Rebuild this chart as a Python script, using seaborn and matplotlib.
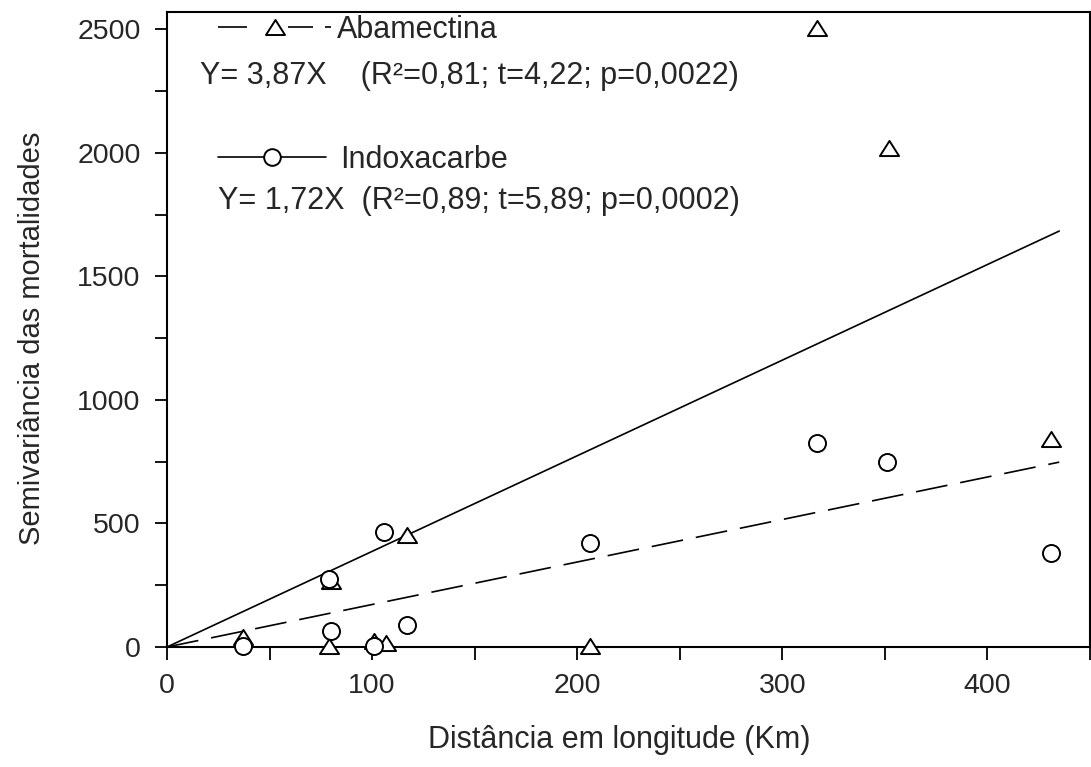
import numpy as np
import pandas as pd
import matplotlib
matplotlib.use("Agg")
import matplotlib.pyplot as plt
import seaborn as sns
from matplotlib.lines import Line2D
from matplotlib.path import Path
from matplotlib.ticker import MultipleLocator
from matplotlib.legend_handler import HandlerLine2D

# ---- data ----
aba_x = [37, 79, 80, 101, 107, 117, 206, 317, 352, 431]
aba_y = [40, 5, 266, 25, 17, 452, 5, 2505, 2020, 840]
ind_x = [37, 79, 80, 101, 106, 117, 206, 317, 351, 431]
ind_y = [5, 275, 66, 4, 466, 89, 421, 827, 748, 381]
fit_x = [0, 435]
slope_solid = 3.87
slope_dashed = 1.72

label_aba = "Abamectina"
label_ind = "Indoxacarbe"
eq_aba = "Y= 3,87X    (R²=0,81; t=4,22; p=0,0022)"
eq_ind = "Y= 1,72X  (R²=0,89; t=5,89; p=0,0002)"
xlabel = "Distância em longitude (Km)"
ylabel = "Semivariância das mortalidades"

sns.set_style("ticks")
plt.rcParams["font.family"] = ["Liberation Sans", "DejaVu Sans"]
plt.rcParams["axes.linewidth"] = 1.5

W, H = 1091, 767
fig = plt.figure(figsize=(W / 100, H / 100), dpi=100)
L, R, T, B = 167, 1090, 12, 647
ax = fig.add_axes([L / W, (H - B) / H, (R - L) / W, (B - T) / H])

tri = Path([(-1, -0.79), (1, -0.79), (0, 0.79), (-1, -0.79)],
           [Path.MOVETO, Path.LINETO, Path.LINETO, Path.CLOSEPOLY])

lw = 1.2
# regression lines
sns.lineplot(x=fit_x, y=[slope_solid * v for v in fit_x], ax=ax, color="black",
             lw=lw, zorder=2, linestyle="-")
sns.lineplot(x=fit_x, y=[slope_dashed * v for v in fit_x], ax=ax, color="black",
             lw=lw, zorder=2, linestyle=(0, (19.2, 7.8)))

# points
sns.scatterplot(x=aba_x, y=aba_y, ax=ax, marker=tri, s=190, facecolor="white",
                edgecolor="black", linewidth=1.4, zorder=3, clip_on=False)
sns.scatterplot(x=ind_x, y=ind_y, ax=ax, marker="o", s=150, facecolor="white",
                edgecolor="black", linewidth=1.4, zorder=4, clip_on=False)

ax.set_xlim(0, 450)
ax.set_ylim(0, 2570)
ax.xaxis.set_major_locator(MultipleLocator(100))
ax.xaxis.set_minor_locator(MultipleLocator(50))
ax.yaxis.set_major_locator(MultipleLocator(500))
ax.yaxis.set_minor_locator(MultipleLocator(250))
ax.tick_params(which="both", direction="out", length=9, width=1.3,
               top=False, right=False, labelsize=20.5, pad=10, color="black")
for s in ax.spines.values():
    s.set_visible(True)
    s.set_color("black")
    s.set_linewidth(1.5)

ax.set_xlabel(xlabel, fontsize=22)
ax.set_ylabel(ylabel, fontsize=21)
ax.xaxis.set_label_coords(0.49, (B - 725) / (B - T))
ax.yaxis.set_label_coords((46 - L) / (R - L), (B - 338) / (B - T))


def fx(px):
    return (px - L) / (R - L)


def fy(py):
    return (B - py) / (B - T)


class MarkerAt(HandlerLine2D):
    def __init__(self, frac, **kw):
        super().__init__(**kw)
        self.frac = frac

    def get_xdata(self, legend, xdescent, ydescent, width, height, fontsize):
        xdata, _ = super().get_xdata(legend, xdescent, ydescent, width, height, fontsize)
        return xdata, [-xdescent + self.frac * width]


fs_leg = 22
h_aba = Line2D([], [], color="black", lw=lw,
               linestyle=(0, (17.4, 24.6, 15, 7.2, 3.6, 30)),
               marker=tri, markersize=13.7, markerfacecolor="white",
               markeredgecolor="black", markeredgewidth=1.4)
h_ind = Line2D([], [], color="black", lw=lw, linestyle="-",
               marker="o", markersize=12, markerfacecolor="white",
               markeredgecolor="black", markeredgewidth=1.4)

leg1 = ax.legend([h_aba], [label_aba], loc="center left",
                 bbox_to_anchor=(fx(218), fy(30)), frameon=False,
                 fontsize=fs_leg, handlelength=3.7, handletextpad=0.2,
                 borderpad=0, borderaxespad=0, numpoints=1,
                 handler_map={h_aba: MarkerAt(0.41)})
ax.add_artist(leg1)
leg2 = ax.legend([h_ind], [label_ind], loc="center left",
                 bbox_to_anchor=(fx(218), fy(160)), frameon=False,
                 fontsize=fs_leg, handlelength=3.55, handletextpad=0.45,
                 borderpad=0, borderaxespad=0, numpoints=1,
                 handler_map={h_ind: MarkerAt(0.48)})

ax.text(fx(200), fy(76), eq_aba, transform=ax.transAxes, fontsize=fs_leg,
        ha="left", va="center")
ax.text(fx(218), fy(201), eq_ind, transform=ax.transAxes, fontsize=fs_leg,
        ha="left", va="center")

fig.savefig("out.png", dpi=100)
